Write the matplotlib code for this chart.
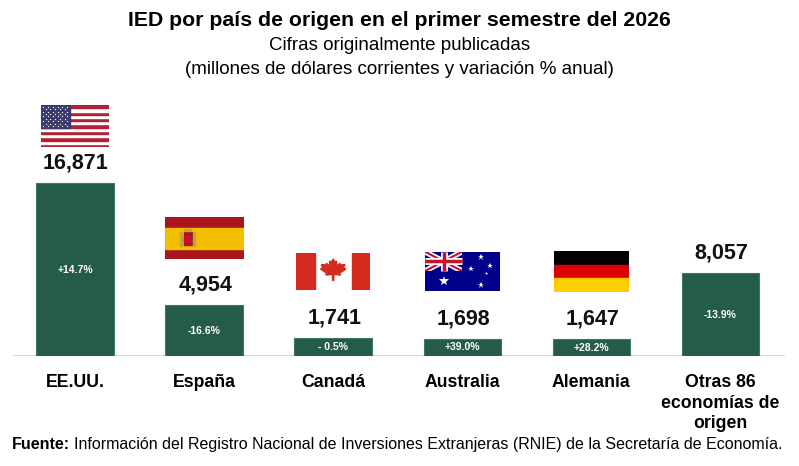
import numpy as np
import matplotlib.pyplot as plt
from matplotlib.patches import Rectangle, Polygon, Ellipse

plt.rcParams['font.family'] = ['Liberation Sans', 'DejaVu Sans']

# data
paises = ['EE.UU.', 'España', 'Canadá', 'Australia', 'Alemania', 'Otras 86\neconomías de\norigen']
ied = [16871, 4954, 1741, 1698, 1647, 8057]
variacion = ['+14.7%', '-16.6%', '- 0.5%', '+39.0%', '+28.2%', '-13.9%']
banderas = ['us', 'es', 'ca', 'au', 'de', None]

bar_color = '#245B4B'

fig = plt.figure(figsize=(7.99, 4.66), dpi=100)
W, H = 799, 466
ax = fig.add_axes([13 / W, (H - 356) / H, (785 - 13) / W, (356 - 90) / H])

x = np.arange(len(paises))
ax.bar(x, ied, width=0.6, color=bar_color, edgecolor='#3d7a64', linewidth=0.8, zorder=2)
ax.set_xlim(-0.48, 5.5)
ax.set_ylim(0, 25950)
ax.axhline(0, color='#d9d9d9', lw=1.5, zorder=1)
for s in ax.spines.values():
    s.set_visible(False)
ax.set_yticks([])
ax.set_xticks([])

# category labels (as text so every first line sits on the same top)
for xi, nombre in zip(x, paises):
    ax.annotate(nombre, (xi, 0), xytext=(0, -18), textcoords='offset pixels',
                ha='center', va='top', fontsize=12.7, fontweight='bold', linespacing=1.28)

for xi, v, p in zip(x, ied, variacion):
    ax.annotate(f'{v:,}', (xi, v), xytext=(1, 20), textcoords='offset pixels',
                ha='center', va='center', fontsize=15.5, fontweight='bold', color='#111111')
    ax.text(xi, v / 2, p, ha='center', va='center', fontsize=7.5,
            fontweight='bold', color='white', zorder=3)


# flags
def flag_us(a):
    for i in range(13):
        a.add_patch(Rectangle((0, i / 13), 1, 1 / 13, color='#B22234' if i % 2 == 0 else 'white'))
    a.add_patch(Rectangle((0, 6 / 13), 0.42, 7 / 13, color='#3C3B6E'))
    for r in range(9):
        n = 6 if r % 2 == 0 else 5
        off = 0.035 if r % 2 == 0 else 0.07
        for c in range(n):
            a.plot(off + c * 0.07, 6 / 13 + 0.04 + r * 0.057, 'o', ms=0.9, color='white', mew=0)


def flag_es(a):
    a.add_patch(Rectangle((0, 0), 1, 1, color='#AA151B'))
    a.add_patch(Rectangle((0, 0.25), 1, 0.5, color='#F1BF00'))
    a.add_patch(Rectangle((0.24, 0.35), 0.11, 0.3, color='#AA151B'))
    a.add_patch(Ellipse((0.295, 0.45), 0.09, 0.22, color='#C8102E'))
    a.add_patch(Rectangle((0.2, 0.32), 0.025, 0.33, color='#C9A23A'))
    a.add_patch(Rectangle((0.365, 0.32), 0.025, 0.33, color='#C9A23A'))
    a.add_patch(Rectangle((0.25, 0.66), 0.09, 0.06, color='#C9A23A'))


def flag_ca(a):
    a.add_patch(Rectangle((0, 0), 1, 1, color='white'))
    a.add_patch(Rectangle((0, 0), 0.25, 1, color='#D52B1E'))
    a.add_patch(Rectangle((0.75, 0), 0.25, 1, color='#D52B1E'))
    half = [(0, 1), (0.12, 0.78), (0.25, 0.85), (0.2, 0.45), (0.45, 0.68), (0.5, 0.55),
            (0.8, 0.6), (0.7, 0.35), (0.85, 0.25), (0.45, -0.05), (0.5, -0.2), (0.05, -0.15),
            (0.04, -0.6)]
    pts = half + [(-px, py) for px, py in reversed(half[1:])]
    pts = [(0.5 + px * 0.2, 0.48 + py * 0.36) for px, py in pts]
    a.add_patch(Polygon(pts, closed=True, color='#D52B1E'))


def flag_au(a):
    a.add_patch(Rectangle((0, 0), 1, 1, color='#00008B'))
    clip = Rectangle((0, 0.5), 0.5, 0.5, transform=a.transData)
    for lw, col in [(4, 'white'), (1.5, '#C8102E')]:
        for seg in [((0, 0.5), (0.5, 1)), ((0, 1), (0.5, 0.5))]:
            ln, = a.plot(*zip(*seg), color=col, lw=lw, solid_capstyle='butt')
            ln.set_clip_path(clip)
    a.plot([0.25, 0.25], [0.5, 1], color='white', lw=5, solid_capstyle='butt')
    a.plot([0, 0.5], [0.75, 0.75], color='white', lw=5, solid_capstyle='butt')
    a.plot([0.25, 0.25], [0.5, 1], color='#C8102E', lw=2.5, solid_capstyle='butt')
    a.plot([0, 0.5], [0.75, 0.75], color='#C8102E', lw=2.5, solid_capstyle='butt')
    a.plot(0.25, 0.25, '*', ms=7, color='white', mew=0)
    for sx, sy, ms in [(0.75, 0.15, 4.5), (0.62, 0.55, 4), (0.75, 0.85, 4.5), (0.87, 0.62, 4), (0.81, 0.45, 2.5)]:
        a.plot(sx, sy, '*', ms=ms, color='white', mew=0)


def flag_de(a):
    a.add_patch(Rectangle((0, 2 / 3), 1, 1 / 3, color='black'))
    a.add_patch(Rectangle((0, 1 / 3), 1, 1 / 3, color='#DD0000'))
    a.add_patch(Rectangle((0, 0), 1, 1 / 3, color='#FFCE00'))


painters = {'us': flag_us, 'es': flag_es, 'ca': flag_ca, 'au': flag_au, 'de': flag_de}
flag_size = {'us': (68, 42), 'es': (79, 42), 'ca': (74, 37), 'au': (75, 39), 'de': (75, 41)}
flag_gap = {'us': 36, 'es': 46, 'ca': 48, 'au': 48, 'de': 47}

for xi, v, b in zip(x, ied, banderas):
    if b is None:
        continue
    px, py = ax.transData.transform((xi, v))
    w, h = flag_size[b]
    bottom = py + flag_gap[b]
    fa = fig.add_axes([(px - w / 2) / W, bottom / H, w / W, h / H])
    fa.set_xlim(0, 1)
    fa.set_ylim(0, 1)
    fa.axis('off')
    painters[b](fa)

# titles
fig.text(0.5, 1 - 20 / H, 'IED por país de origen en el primer semestre del 2026',
         ha='center', va='center', fontsize=15.3, fontweight='bold')
fig.text(0.5, 1 - 46 / H, 'Cifras originalmente publicadas', ha='center', va='center', fontsize=13.5)
fig.text(0.5, 1 - 69 / H, '(millones de dólares corrientes y variación % anual)',
         ha='center', va='center', fontsize=13.5)

# source
r = fig.canvas.get_renderer()
t1 = fig.text(12 / W, 1 - 449 / H, 'Fuente:', ha='left', va='baseline', fontsize=11.55, fontweight='bold')
bb = t1.get_window_extent(r)
fig.text((bb.x1 + 4) / W, 1 - 449 / H,
         'Información del Registro Nacional de Inversiones Extranjeras (RNIE) de la Secretaría de Economía.',
         ha='left', va='baseline', fontsize=11.55)

fig.savefig('out.png', dpi=100)
